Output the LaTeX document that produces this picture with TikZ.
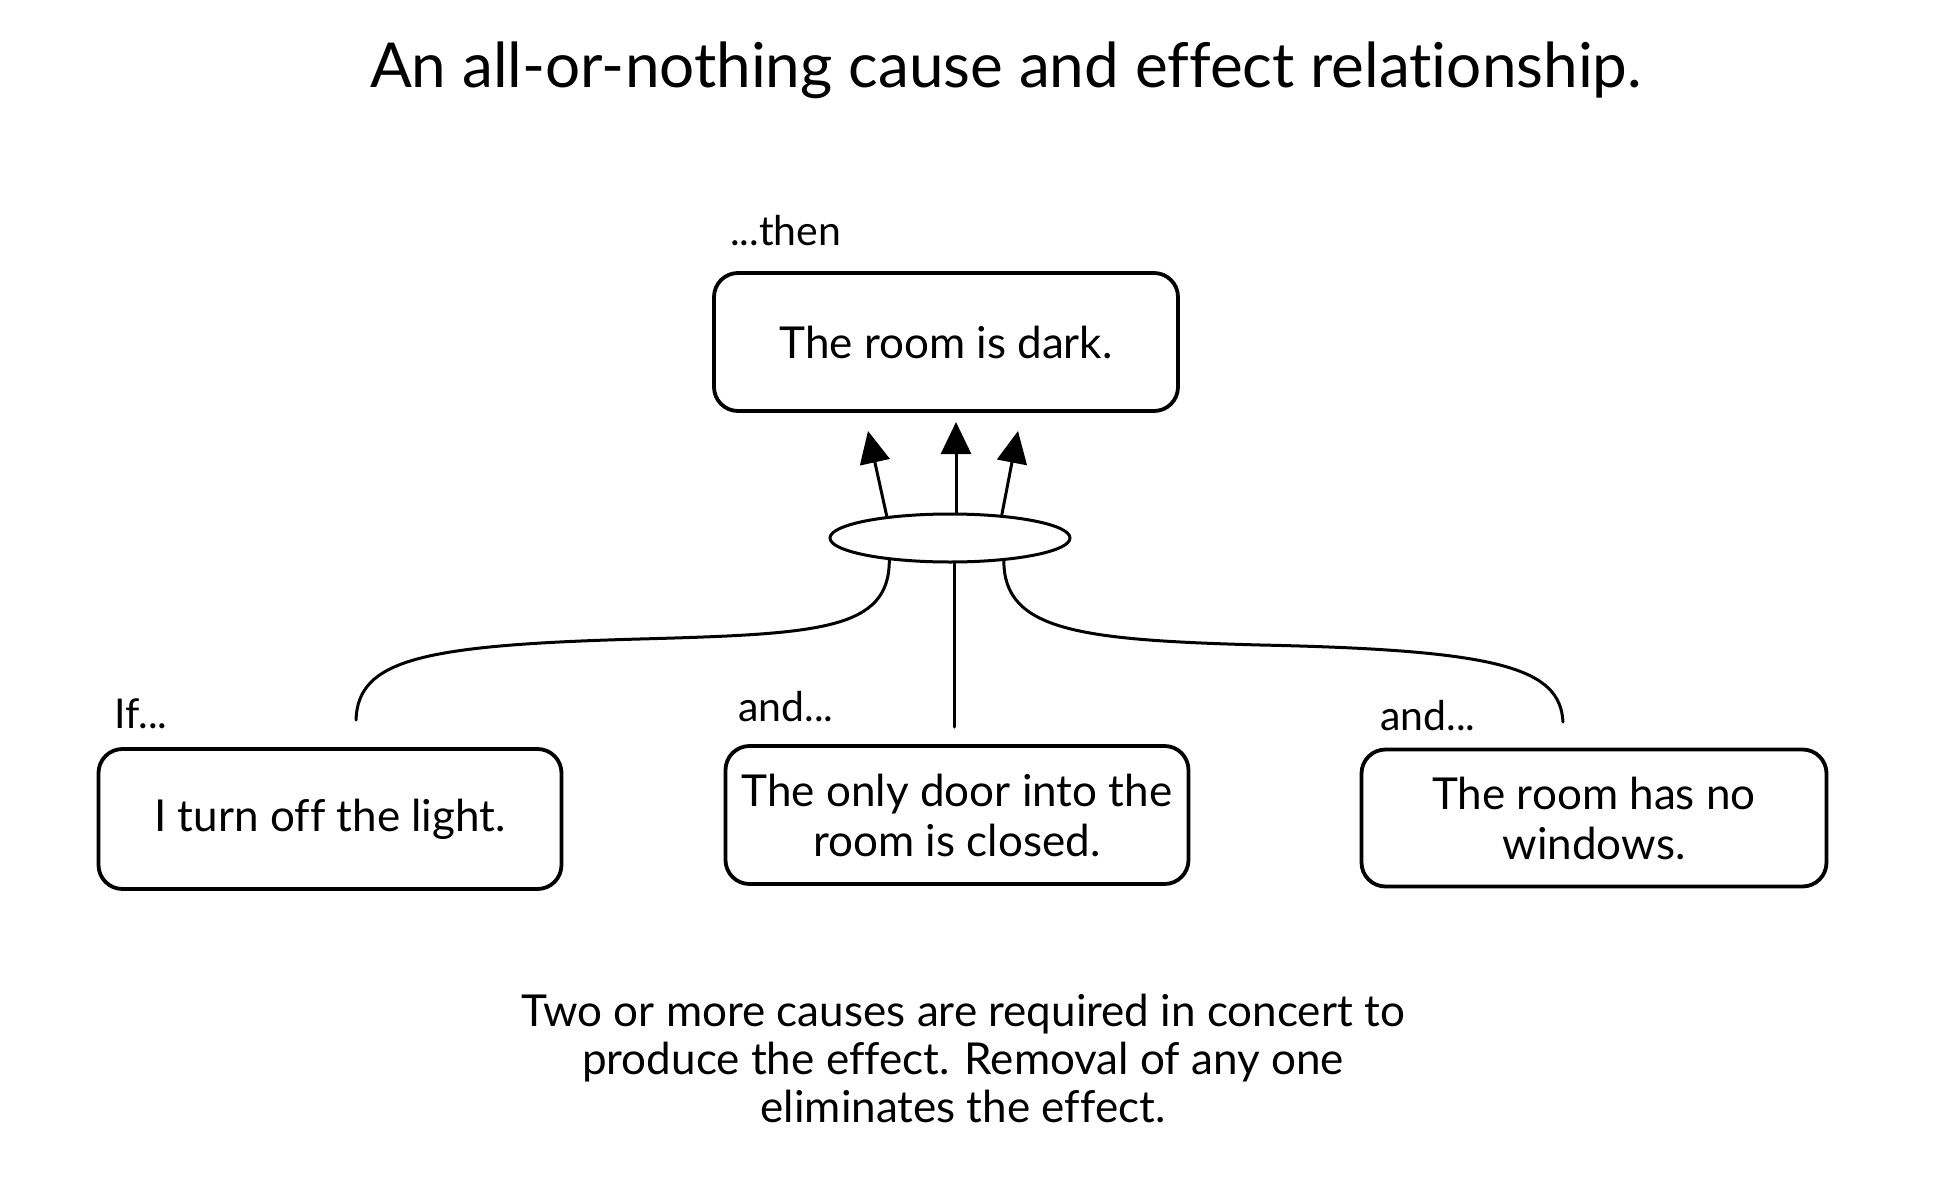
\documentclass[tikz,border=0pt]{standalone}
\usepackage{fontspec}
\setmainfont{Lato}[Ligatures=NoCommon]
\usetikzlibrary{arrows.meta,shapes.geometric}
\begin{document}
\begin{tikzpicture}[x=1pt,y=-1pt,
  box/.style={draw, line width=3.8pt, rounded corners=24pt, align=center, inner sep=0pt,
    font=\fontsize{44}{50}\selectfont},
  lbl/.style={inner sep=0pt, font=\fontsize{41}{46}\selectfont},
  conn/.style={line width=3pt, line cap=round},
  arr/.style={line width=3pt, -{Triangle[length=32pt,width=30pt]}},
]
\fill[white] (0,0) rectangle (1936,1180);
\useasboundingbox (0,0) rectangle (1936,1180);

\node[inner sep=0pt, font=\fontsize{62}{70}\selectfont] (title) at (1006,70) {An all-or-nothing cause and effect relationship.};

\node[box, minimum width=464pt, minimum height=138pt] (effect) at (946,342) {The room is dark.};
\node[lbl, anchor=west] (then) at (730,231) {...then};

\node[draw, ellipse, line width=3pt, minimum width=240pt, minimum height=48pt, inner sep=0pt] (and) at (950,538) {};

\node[box, minimum width=463pt, minimum height=140pt] (c1) at (330,819) {I turn off the light.};
\node[box, minimum width=463pt, minimum height=138pt] (c2) at (957,815) {The only door into the\\room is closed.};
\node[box, minimum width=465pt, minimum height=137pt] (c3) at (1594,818) {The room has no\\windows.};

\node[lbl, anchor=west] (if) at (114,714) {If...};
\node[lbl, anchor=west] (and2) at (738,707) {and...};
\node[lbl, anchor=west] (and3) at (1380,716) {and...};

\node[align=center, inner sep=0pt, font=\fontsize{44}{48}\selectfont] (note) at (963,1058)
  {Two or more causes are required in concert to\\produce the effect. Removal of any one\\eliminates the effect.};

\coordinate (t1) at (868,431);
\coordinate (t2) at (956,422);
\coordinate (t3) at (1018,431);
\coordinate (e1) at (356,720);
\coordinate (e2) at (954,727);
\coordinate (e3) at (1563,722);

\draw[arr] (and.161) -- (t1);
\draw[arr] (and.north -| t2) -- (t2);
\draw[arr] (and.24) -- (t3);

\draw[conn] (and.200) .. controls ++(0,70) and (820,634) .. (640,639)
  .. controls (420,645) and (358,660) .. (e1);
\draw[conn] (and.south -| e2) -- (e2);
\draw[conn] (and.337) .. controls ++(0,70) and (1080,640) .. (1260,645)
  .. controls (1500,650) and (1560,668) .. (e3);
\end{tikzpicture}
\end{document}
